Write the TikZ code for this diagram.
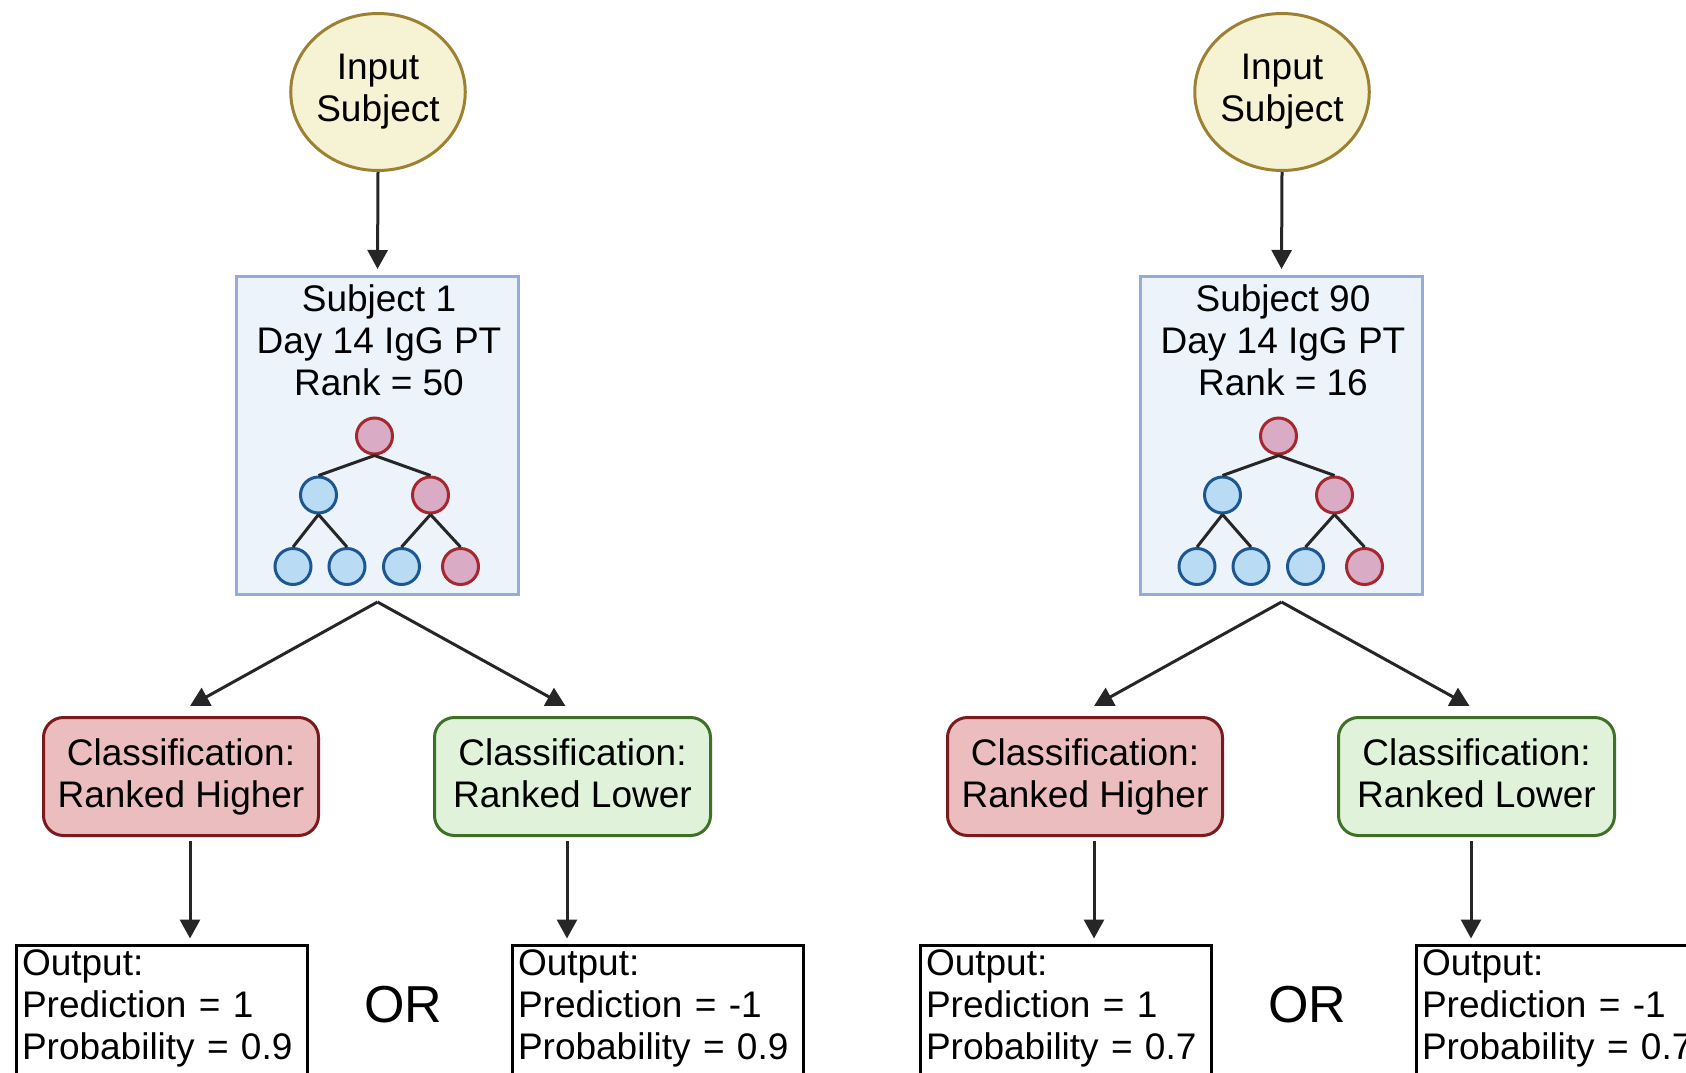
\documentclass[tikz,border=0pt]{standalone}
\usepackage{fontspec}
\setmainfont{Liberation Sans}
\usetikzlibrary{shapes.geometric,arrows.meta}
\definecolor{inpfill}{HTML}{F6F3D4}
\definecolor{inpline}{HTML}{9C8132}
\definecolor{subjfill}{HTML}{EDF3FB}
\definecolor{subjline}{HTML}{95ABD8}
\definecolor{hifill}{HTML}{EBBDBE}
\definecolor{hiline}{HTML}{7B1A1D}
\definecolor{lofill}{HTML}{E0F3DA}
\definecolor{loline}{HTML}{3E7126}
\definecolor{redfill}{HTML}{D9ABC4}
\definecolor{redline}{HTML}{A4282D}
\definecolor{bluefill}{HTML}{B9DBF3}
\definecolor{blueline}{HTML}{1C5791}
\definecolor{arrcol}{HTML}{262626}
\begin{document}
\begin{tikzpicture}[x=1pt,y=-1pt,
    txt/.style={font=\fontsize{37}{42}\selectfont, align=center},
    inp/.style={ellipse, draw=inpline, fill=inpfill, line width=3pt, minimum width=169pt, minimum height=157pt, inner sep=0pt, txt},
    subj/.style={draw=subjline, fill=subjfill, line width=3pt, minimum width=282pt, minimum height=318pt},
    leaf/.style={circle, line width=3pt, minimum size=36pt, inner sep=0pt},
    redleaf/.style={leaf, draw=redline, fill=redfill},
    blueleaf/.style={leaf, draw=blueline, fill=bluefill},
    hibox/.style={rounded corners=20pt, draw=hiline, fill=hifill, line width=3pt, minimum width=275pt, minimum height=118pt, inner sep=0pt, text depth=7pt, txt},
    lobox/.style={rounded corners=20pt, draw=loline, fill=lofill, line width=3pt, minimum width=276pt, minimum height=118pt, inner sep=0pt, text depth=7pt, txt},
    outbox/.style={draw, line width=3pt, anchor=north west, text width=279pt, inner xsep=6pt, inner ysep=4.5pt, align=left, text depth=150pt, font=\fontsize{37}{42}\selectfont},
    arr/.style={-{Triangle[length=19pt,width=20pt]}, line width=3pt, draw=arrcol},
    branch/.style={line width=3pt, draw=arrcol}]
    \useasboundingbox (0,0) rectangle (1686,1073);
    \clip (0,0) rectangle (1686,1073);
    \foreach \dx/\s/\r/\p/\k in {0/1/50/0.9/a, 904/90/16/0.7/b}{
    \begin{scope}[xshift=\dx pt]
        \node[inp] (in\k) at (378,92) {Input\\Subject};
        \node[subj] (sub\k) at (377.5,435.5) {};
        \node[txt, anchor=base] (lab\k) at (379,395) {Subject \s\\Day 14 IgG PT\\Rank = \r};
        % tree
        \node[redleaf] (root\k) at (374.5,436) {};
        \node[blueleaf] (na\k) at (318.5,495) {};
        \node[redleaf] (nb\k) at (430.5,495) {};
        \node[blueleaf] (la\k) at (293,566.5) {};
        \node[blueleaf] (lb\k) at (347,566.5) {};
        \node[blueleaf] (lc\k) at (401.5,566.5) {};
        \node[redleaf] (ld\k) at (460.5,566.5) {};
        \draw[branch] (root\k.south) -- (na\k.north) (root\k.south) -- (nb\k.north);
        \draw[branch] (na\k.south) -- (la\k.north) (na\k.south) -- (lb\k.north);
        \draw[branch] (nb\k.south) -- (lc\k.north) (nb\k.south) -- (ld\k.north);
        \node[hibox] (hi\k) at (181,776.5) {Classification:\\Ranked Higher};
        \node[lobox] (lo\k) at (572.5,776.5) {Classification:\\Ranked Lower};
        \node[outbox] (outh\k) at (14.5,943.5) {Output:\\Prediction = 1\\Probability = \p};
        \node[outbox] (outl\k) at (510.5,943.5) {Output:\\Prediction = -1\\Probability = \p};
        \node[font=\fontsize{52}{60}\selectfont] (or\k) at (403,1005) {OR};
        \draw[arr, shorten >=6pt] (in\k.south) -- (sub\k.north);
        \draw[arr] ([yshift=-6pt]sub\k.south) -- ([xshift=9pt,yshift=10pt]hi\k.north);
        \draw[arr] ([yshift=-6pt]sub\k.south) -- ([xshift=-7pt,yshift=10pt]lo\k.north);
        \draw[arr] ([xshift=9pt,yshift=-4pt]hi\k.south) -- ([xshift=9pt,yshift=5pt]hi\k.south |- outh\k.north);
        \draw[arr] ([xshift=-5.5pt,yshift=-4pt]lo\k.south) -- ([xshift=-5.5pt,yshift=5pt]lo\k.south |- outl\k.north);
    \end{scope}
    }
\end{tikzpicture}
\end{document}
